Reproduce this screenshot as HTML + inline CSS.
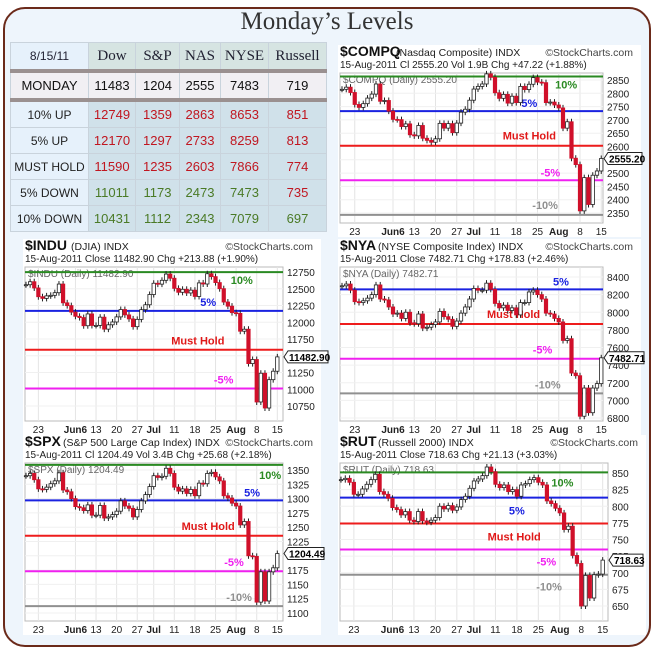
<!DOCTYPE html>
<html><head><meta charset="utf-8"><style>
body{margin:0;background:#fff;width:654px;height:649px;overflow:hidden;font-family:"Liberation Sans",sans-serif}
#frame{position:absolute;left:3px;top:7px;width:644px;height:636px;border:2px solid #6b2a1a;border-radius:22px;background:#eef5fc}
#title{position:absolute;left:0;width:654px;top:8px;text-align:center;font-family:"Liberation Serif",serif;font-size:25px;color:#333}
table{position:absolute;left:10px;top:42px;border-collapse:collapse;font-size:13px}
td{border:1px solid #c9d3dc;text-align:center;height:25px;padding:0}
.h td{font-family:"Liberation Serif",serif;font-size:15px;background:#d6e4e2;color:#223;height:26px}
.h td:first-child{font-family:"Liberation Sans",sans-serif;font-size:12px;background:#e6f1fb}
.m td{background:#f1eff3;border-top:4px solid #9a9090;border-bottom:4px solid #9a9090;font-size:13px;color:#111}
.r td{background:#d0e1ea;font-size:13px}
.r td:first-child{background:#e6f1fb;color:#222;font-size:12px}
.red{color:#c01620}.grn{color:#4a7a26}
svg{position:absolute;left:0;top:0}
</style></head><body>
<div id="frame"></div>
<div id="title">Monday’s Levels</div>
<table>
<tr class="h"><td style="width:77px">8/15/11</td><td style="width:46px">Dow</td><td style="width:43px">S&amp;P</td><td style="width:40px">NAS</td><td style="width:47px">NYSE</td><td style="width:57px">Russell</td></tr>
<tr class="m"><td>MONDAY</td><td>11483</td><td>1204</td><td>2555</td><td>7483</td><td>719</td></tr>
<tr class="r"><td>10% UP</td><td class="red">12749</td><td class="red">1359</td><td class="red">2863</td><td class="red">8653</td><td class="red">851</td></tr>
<tr class="r"><td>5% UP</td><td class="red">12170</td><td class="red">1297</td><td class="red">2733</td><td class="red">8259</td><td class="red">813</td></tr>
<tr class="r"><td>MUST HOLD</td><td class="red">11590</td><td class="red">1235</td><td class="red">2603</td><td class="red">7866</td><td class="red">774</td></tr>
<tr class="r"><td>5% DOWN</td><td class="grn">11011</td><td class="grn">1173</td><td class="grn">2473</td><td class="grn">7473</td><td class="red">735</td></tr>
<tr class="r"><td>10% DOWN</td><td class="grn">10431</td><td class="grn">1112</td><td class="grn">2343</td><td class="grn">7079</td><td class="grn">697</td></tr>
</table>
<svg id="s" width="654" height="649" xmlns="http://www.w3.org/2000/svg"></svg>
<script>
const xTickIdx=[3,12,17,22,27,31,36,41,46,51,56,61];
const xTickLabels=["23","Jun6","13","20","27","Jul","11","18","25","Aug","8","15"];
const levelNames=["10%","5%","Must Hold","-5%","-10%"];
const compqClose=[2815,2823,2803,2758,2747,2761,2782,2797,2835,2770,2773,2733,2702,2701,2675,2685,2644,2640,2679,2631,2623,2616,2629,2687,2669,2686,2652,2688,2729,2740,2774,2816,2826,2835,2873,2860,2802,2781,2796,2763,2789,2765,2826,2814,2834,2859,2842,2840,2765,2767,2756,2745,2669,2693,2556,2532,2358,2483,2382,2492,2508,2555];
const induClose=[12560,12605,12512,12381,12356,12394,12402,12441,12570,12290,12248,12151,12089,12070,11948,12124,11952,11953,12076,11897,11962,12004,12080,12190,12110,12050,11934,12043,12188,12261,12414,12582,12569,12626,12719,12657,12506,12447,12492,12437,12479,12385,12587,12571,12724,12681,12592,12501,12302,12240,12143,12132,11866,11896,11383,11444,10810,11239,10720,11143,11269,11483];
const nyaClose=[8300,8320,8250,8120,8110,8130,8160,8200,8310,8150,8140,8060,7980,7990,7930,8000,7880,7870,7980,7820,7830,7860,7890,8010,7950,7920,7840,7900,7990,8060,8150,8270,8250,8250,8330,8260,8100,8050,8080,8020,8050,7970,8110,8110,8230,8250,8200,8150,7990,7980,7930,7890,7680,7700,7310,7280,6820,7140,6860,7140,7190,7483];
const spxClose=[1340,1344,1333,1317,1316,1320,1326,1331,1345,1315,1312,1300,1286,1284,1279,1289,1271,1271,1288,1266,1268,1272,1278,1296,1287,1283,1268,1281,1296,1307,1321,1340,1337,1339,1353,1344,1320,1313,1317,1309,1316,1305,1327,1326,1344,1346,1338,1331,1305,1301,1292,1287,1254,1260,1200,1199,1119,1172,1121,1172,1179,1204];
const rutClose=[840,842,836,818,818,826,833,840,848,822,818,812,798,795,787,792,779,777,792,778,776,779,783,800,796,801,794,799,810,815,827,838,841,846,859,852,833,828,832,822,825,815,832,834,840,843,836,832,808,804,797,790,765,770,726,714,650,696,662,697,698,719];
const compqLevels=[2863,2733,2603,2473,2343];
const induLevels=[12749,12170,11590,11011,10431];
const nyaLevels=[8653,8259,7866,7473,7079];
const spxLevels=[1359,1297,1235,1173,1112];
const rutLevels=[851,813,774,735,697];
const compqTicks=[2350,2400,2450,2500,2550,2600,2650,2700,2750,2800,2850];
const induTicks=[10750,11000,11250,11500,11750,12000,12250,12500,12750];
const nyaTicks=[6800,7000,7200,7400,7600,7800,8000,8200,8400];
const spxTicks=[1100,1125,1150,1175,1200,1225,1250,1275,1300,1325,1350];
const rutTicks=[650,675,700,725,750,775,800,825,850];

const S=document.getElementById('s');const NS='http://www.w3.org/2000/svg';
function el(t,a,p){const e=document.createElementNS(NS,t);for(const k in a)e.setAttribute(k,a[k]);(p||S).appendChild(e);return e;}
function txt(x,y,s,a,p){const e=el('text',Object.assign({x:x,y:y,'font-family':'Liberation Sans, sans-serif'},a),p);e.textContent=s;return e;}
const lvlColors=["#2a8a22","#1a22e0","#ee1c1c","#f020f0","#909090"];
const lvlTextColors=["#2a8a22","#1a22e0","#e01818","#f020f0","#909090"];

function chart(c){
  const g=el('g',{});
  
  
  const [pT,yT,pB,yB]=c.map;
  const Y=p=>yT+(pT-p)*(yB-yT)/(pT-pB);
  const X=i=>c.x0+i*c.step;
  el('rect',{x:c.l-2,y:c.top-28,width:c.r-c.l+40,height:c.bot-c.top+42,fill:'#fff'},g);
  const h=txt(c.l,c.top-17,c.sym,{'font-size':14,'font-weight':'bold',fill:'#111'},g);
  
  txt(c.l+c.symW,c.top-17,c.desc,{'font-size':10.5,fill:'#222'},g);
  txt(c.r+30,c.top-17,'©StockCharts.com',{'font-size':10.5,fill:'#444','text-anchor':'end'},g);
  txt(c.l,c.top-5,c.sub,{'font-size':10,fill:'#222'},g);
  el('rect',{x:c.l,y:c.top,width:c.r-c.l,height:c.bot-c.top,fill:'#fff',stroke:'#bbb','stroke-width':1},g);
  xTickIdx.forEach((i,k)=>{
    el('line',{x1:X(i),x2:X(i),y1:c.top,y2:c.bot,stroke:'#e4e4e4'},g);
    const t=txt(X(i),c.bot+12,xTickLabels[k],{'font-size':10,fill:'#222','text-anchor':'middle','font-weight':/[A-Z]/.test(xTickLabels[k])?'bold':'normal'},g);
    
  });
  c.ticks.forEach(v=>{
    el('line',{x1:c.l,x2:c.r,y1:Y(v),y2:Y(v),stroke:'#f0f0f0'},g);
    const t=txt(c.r+4,Y(v)+4,String(v),{'font-size':10,fill:'#222'},g);
    
  });
  txt(c.l+3,c.top+10,c.sym+' (Daily) '+c.last,{'font-size':10,fill:'#666'},g);
  c.levels.forEach((v,k)=>{
    if(Y(v)<c.top||Y(v)>c.bot)return;
    const ln=el('line',{x1:c.l,x2:c.r,y1:Y(v),y2:Y(v),stroke:lvlColors[k],'stroke-width':2},g);
    
    const t=txt(c.l+(c.r-c.l)*c.lblX[k],Y(v)+c.lblDy[k],levelNames[k],{'font-size':11,'font-weight':'bold',fill:lvlTextColors[k],'text-anchor':'middle'},g);
    
  });
  const d=c.data;
  d.forEach((cl,i)=>{
    const op=i?d[i-1]:cl;const up=cl>=op;
    const y1=Y(Math.max(op,cl)),y2=Y(Math.min(op,cl));
    el('line',{x1:X(i),x2:X(i),y1:y1-3,y2:y2+3,stroke:'#222','stroke-width':1},g);
    const r=el('rect',{x:X(i)-1.7,y:y1,width:3.4,height:Math.max(1,y2-y1),fill:up?'#fff':'#d0102a',stroke:up?'#222':'#d0102a','stroke-width':0.8},g);
    
  });
  const ly=Y(d[d.length-1]);
  el('path',{d:`M${c.r+1} ${ly} l4 -6 h${c.boxW} v12 h-${c.boxW} z`,fill:'#fff',stroke:'#222'},g);
  txt(c.r+6,ly+4,c.last,{'font-size':10,'font-weight':'bold',fill:'#000'},g);
}
chart({id:'compq',sym:'$COMPQ',symW:56,desc:'(Nasdaq Composite)  INDX',sub:'15-Aug-2011      Cl 2555.20  Vol 1.9B  Chg +47.22 (+1.88%)',last:'2555.20',
 l:340,r:603,top:73,bot:223,x0:342,step:4.25,map:[2850,80,2350,213],ticks:compqTicks,levels:compqLevels,data:compqClose,boxW:34,
 lblX:[0.86,0.72,0.72,0.8,0.78],lblDy:[12,-4,-6,-4,-6]});
chart({id:'indu',sym:'$INDU',symW:46,desc:'(DJIA)  INDX',sub:'15-Aug-2011       Close 11482.90  Chg +213.88 (+1.90%)',last:'11482.90',
 l:25,r:283,top:267,bot:421,x0:26,step:4.12,map:[12750,272,10750,406],ticks:induTicks,levels:induLevels,data:induClose,boxW:40,
 lblX:[0.84,0.71,0.67,0.77,0.8],lblDy:[12,-5,-5,-5,-5]});
chart({id:'nya',sym:'$NYA',symW:38,desc:'(NYSE Composite Index)  INDX',sub:'15-Aug-2011       Close 7482.71  Chg +178.83 (+2.46%)',last:'7482.71',
 l:340,r:603,top:267,bot:421,x0:342,step:4.25,map:[8400,277,6800,418],ticks:nyaTicks,levels:nyaLevels,data:nyaClose,boxW:36,
 lblX:[0.86,0.84,0.66,0.77,0.79],lblDy:[12,-4,-6,-5,-5]});
chart({id:'spx',sym:'$SPX',symW:38,desc:'(S&P 500 Large Cap Index)  INDX',sub:'15-Aug-2011     Cl 1204.49  Vol 3.4B  Chg +25.68 (+2.18%)',last:'1204.49',
 l:25,r:283,top:463,bot:621,x0:26,step:4.12,map:[1350,470,1100,613],ticks:spxTicks,levels:spxLevels,data:spxClose,boxW:36,
 lblX:[0.95,0.88,0.71,0.81,0.83],lblDy:[14,-4,-6,-5,-5]});
chart({id:'rut',sym:'$RUT',symW:38,desc:'(Russell 2000)  INDX',sub:'15-Aug-2011       Close 718.63  Chg +21.13 (+3.03%)',last:'718.63',
 l:340,r:608,top:463,bot:621,x0:341,step:4.29,map:[850,473,650,606],ticks:rutTicks,levels:rutLevels,data:rutClose,boxW:30,
 lblX:[0.83,0.66,0.65,0.77,0.78],lblDy:[14,17,17,16,16]});
</script>
</body></html>
